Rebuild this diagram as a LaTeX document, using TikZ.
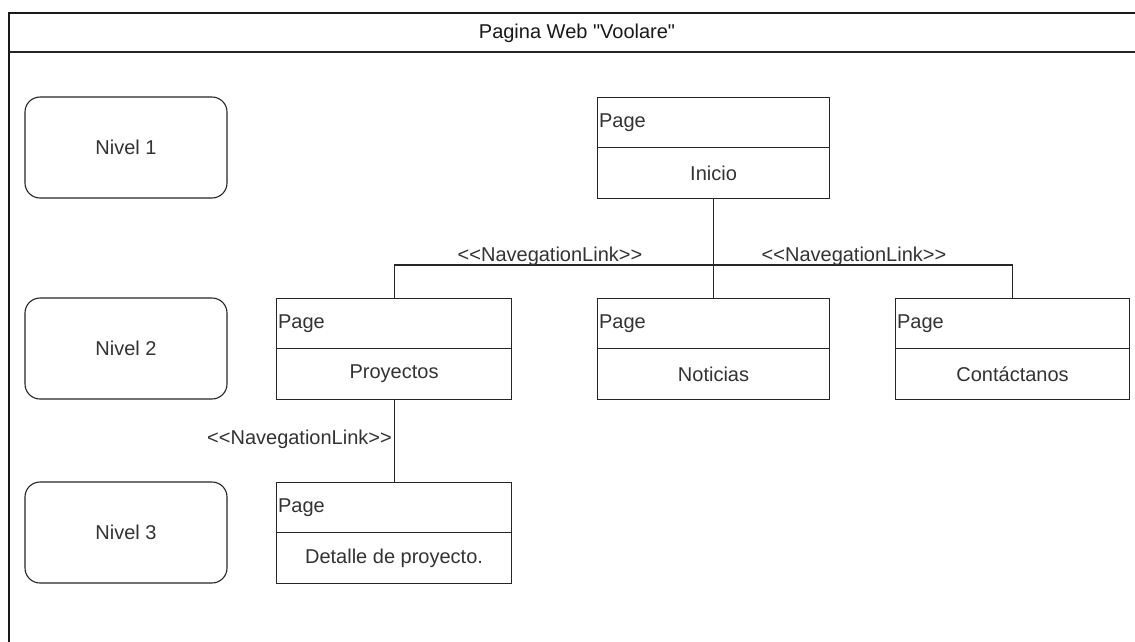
\documentclass[tikz,border=0pt]{standalone}
\usepackage{fontspec}
\setmainfont{Liberation Sans}[Ligatures=TeXOff]
\begin{document}
\begin{tikzpicture}[x=1pt,y=-1pt,
  every node/.style={font=\fontsize{20}{24}\selectfont, text=black!80},
  levelbox/.style={draw=black!85, line width=1.1pt, rounded corners=15pt, minimum width=202pt, minimum height=101pt},
  pagehead/.style={draw=black!85, line width=1.1pt, anchor=north west, minimum height=50pt, inner xsep=1.5pt, align=left},
  pagebody/.style={draw=black!85, line width=1.1pt, anchor=north west, minimum height=51pt},
  link/.style={draw=black!85, line width=1.1pt},
  linklabel/.style={inner sep=0pt}
]
\clip (0,0) rectangle (1135,641);
\useasboundingbox (0,0) rectangle (1135,641);
\fill[white] (0,0) rectangle (1135,641);

% outer frame
\draw[line width=1.3pt, black!90] (9,660) -- (9,13) -- (1160,13);
\draw[line width=1.1pt, black!85] (9,52) -- (1160,52);
\node[text=black!90] (title) at (577,33) {Pagina Web "Voolare"};

% level boxes
\node[levelbox] (n1) at (126,147.5) {Nivel 1};
\node[levelbox] (n2) at (126,348.5) {Nivel 2};
\node[levelbox] (n3) at (126,532.5) {Nivel 3};

% pages
\node[pagehead, text width=229pt] (iniH) at (597,97) {Page};
\node[pagebody, minimum width=232pt] (ini) at (597,147) {Inicio};

\node[pagehead, text width=232pt] (proH) at (276,298) {Page};
\node[pagebody, minimum width=235pt] (pro) at (276,348) {Proyectos};

\node[pagehead, text width=229pt] (notH) at (597,298) {Page};
\node[pagebody, minimum width=232pt] (not) at (597,348) {Noticias};

\node[pagehead, text width=231pt] (conH) at (895,298) {Page};
\node[pagebody, minimum width=234pt] (con) at (895,348) {Contáctanos};

\node[pagehead, text width=232pt] (detH) at (276,482) {Page};
\node[pagebody, minimum width=235pt] (det) at (276,532) {Detalle de proyecto.};

% connectors
\coordinate (j) at (ini.south |- 0,265);
\draw[link] (ini.south) -- (notH.north);
\draw[link] (proH.north) |- (j) -| (conH.north);
\node[linklabel] (l1) at (550,256) {<<NavegationLink>>};
\node[linklabel] (l2) at (854,256) {<<NavegationLink>>};

\draw[link] (pro.south) -- (detH.north);
\node[linklabel, anchor=east] (l3) at (392,439) {<<NavegationLink>>};
\end{tikzpicture}
\end{document}
